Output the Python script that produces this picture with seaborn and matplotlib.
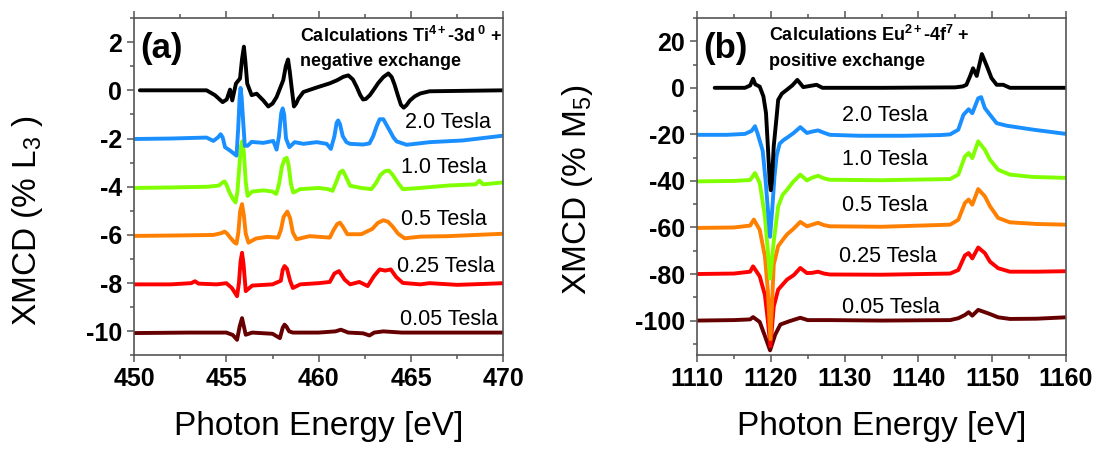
import matplotlib
matplotlib.use("Agg")
import matplotlib.pyplot as plt
import seaborn as sns
from matplotlib.ticker import MultipleLocator

# ---------------- data: panel (a) Ti L3 ----------------
calc_a_x = [450.32, 453.93, 454.38, 454.8, 455.02, 455.2, 455.32, 455.52, 455.74, 455.85, 455.95, 456.03,
            456.13, 456.37, 456.64, 457.0, 457.27, 457.5, 457.72, 458.08, 458.22, 458.34, 458.43, 458.53,
            458.66, 458.78, 458.9, 459.17, 459.9, 460.6, 461.0, 461.33, 461.6, 461.85, 462.05, 462.25,
            462.4, 462.55, 462.77, 463.0, 463.22, 463.5, 463.77, 463.95, 464.1, 464.3, 464.45, 464.6,
            464.75, 464.94, 465.2, 465.5, 466.0, 470.0]
calc_a_y = [0.0, 0.0, -0.2, -0.49, -0.38, 0.03, -0.42, 0.28, 0.49, 1.3, 1.81, 1.2,
            0.28, -0.2, -0.14, -0.42, -0.67, -0.55, -0.28, 0.42, 1.0, 1.28, 0.8, 0.14,
            -0.67, -0.55, -0.35, -0.07, 0.12, 0.29, 0.42, 0.56, 0.62, 0.45, 0.15, -0.2,
            -0.38, -0.36, -0.2, 0.05, 0.3, 0.55, 0.7, 0.55, 0.25, -0.25, -0.6, -0.72,
            -0.62, -0.42, -0.25, -0.13, -0.04, 0.0]

t20_a_x = [450.0, 452.0, 453.93, 454.3, 454.55, 454.69, 454.8, 454.93, 455.2, 455.45, 455.55, 455.64,
           455.72, 455.77, 455.83, 455.92, 456.0, 456.15, 456.37, 457.0, 457.54, 457.72, 457.85, 457.97,
           458.05, 458.13, 458.23, 458.41, 458.7, 459.17, 459.89, 460.43, 460.66, 460.85, 460.97, 461.05,
           461.15, 461.3, 461.5, 461.69, 462.41, 462.75, 462.95, 463.13, 463.3, 463.5, 463.68, 463.9,
           464.04, 464.22, 464.76, 466.02, 467.8, 470.0]
t20_a_y = [-2.02, -2.0, -1.96, -2.1, -1.95, -1.82, -1.95, -2.36, -2.5, -2.65, -2.71, -1.6,
           -0.3, 0.1, -0.3, -1.4, -2.3, -2.3, -2.14, -2.18, -2.1, -2.46, -1.9, -0.95,
           -0.75, -1.0, -2.0, -2.36, -2.15, -2.22, -2.15, -2.22, -2.43, -1.9, -1.35, -1.25,
           -1.4, -1.9, -2.15, -2.22, -2.25, -2.2, -1.9, -1.5, -1.2, -1.2, -1.45, -1.75,
           -1.95, -2.12, -2.26, -2.15, -2.08, -1.88]

t10_a_x = [450.0, 452.0, 454.0, 454.6, 454.8, 454.9, 455.0, 455.15, 455.35, 455.5, 455.6, 455.72,
           455.8, 455.87, 455.95, 456.05, 456.15, 456.4, 457.0, 457.5, 457.7, 457.85, 458.0, 458.15,
           458.27, 458.37, 458.5, 458.62, 459.0, 460.0, 460.5, 460.75, 460.95, 461.15, 461.3, 461.45,
           461.7, 462.3, 462.85, 463.1, 463.35, 463.6, 463.8, 464.0, 464.3, 464.55, 465.5, 467.0,
           468.5, 468.7, 468.9, 470.0]
t10_a_y = [-4.05, -4.03, -4.0, -3.95, -3.82, -3.78, -3.9, -4.2, -4.5, -4.65, -4.2, -3.0,
           -2.3, -2.11, -2.6, -3.8, -4.38, -4.2, -4.15, -4.2, -4.3, -3.9, -3.2, -2.85,
           -2.8, -3.1, -3.9, -4.24, -4.1, -4.05, -4.1, -4.17, -3.8, -3.4, -3.33, -3.55,
           -3.96, -4.05, -4.1, -3.85, -3.5, -3.35, -3.33, -3.5, -3.85, -4.1, -4.05, -3.95,
           -3.9, -3.75, -3.9, -3.82]

t05_a_x = [450.0, 452.5, 454.3, 454.75, 454.9, 455.05, 455.2, 455.45, 455.55, 455.65, 455.75, 455.85,
           455.95, 456.05, 456.2, 456.6, 457.2, 457.8, 457.95, 458.1, 458.3, 458.45, 458.6, 458.8,
           459.5, 460.6, 460.8, 461.0, 461.15, 461.3, 461.55, 462.3, 462.9, 463.2, 463.5, 463.75,
           464.0, 464.3, 464.65, 465.5, 467.0, 470.0]
t05_a_y = [-6.04, -6.02, -6.0, -5.92, -5.86, -5.95, -6.1, -6.32, -6.36, -5.9, -5.0, -4.72,
           -5.2, -5.95, -6.32, -6.15, -6.08, -6.11, -5.8, -5.25, -5.03, -5.3, -5.9, -6.18,
           -6.05, -6.11, -5.8, -5.55, -5.49, -5.65, -5.97, -5.97, -5.75, -5.5, -5.39, -5.45,
           -5.65, -5.95, -6.14, -6.07, -6.05, -5.95]

t025_a_x = [450.0, 452.0, 453.1, 453.3, 453.5, 454.5, 455.0, 455.3, 455.58, 455.68, 455.77, 455.85,
            455.93, 456.05, 456.4, 457.5, 457.95, 458.05, 458.15, 458.28, 458.45, 458.6, 459.0, 460.0,
            460.6, 460.85, 461.1, 461.4, 461.7, 462.2, 462.65, 463.0, 463.3, 463.6, 463.9, 464.2,
            464.55, 465.5, 466.0, 467.5, 469.0, 470.0]
t025_a_y = [-8.05, -8.05, -8.0, -7.92, -8.02, -8.05, -8.0, -8.2, -8.54, -8.0, -7.1, -6.74,
            -7.2, -8.33, -8.1, -8.05, -7.9, -7.45, -7.29, -7.4, -7.9, -8.2, -8.05, -8.0,
            -7.95, -7.6, -7.5, -7.85, -8.05, -7.95, -8.12, -7.7, -7.43, -7.48, -7.43, -7.75,
            -7.99, -8.05, -8.0, -8.07, -8.03, -8.0]

t005_a_x = [450.0, 453.0, 455.0, 455.35, 455.58, 455.72, 455.85, 455.95, 456.05, 456.4, 457.5, 457.9,
            458.05, 458.15, 458.25, 458.4, 458.6, 460.0, 460.9, 461.2, 461.6, 462.4, 462.75, 463.0,
            463.5, 464.5, 470.0]
t005_a_y = [-10.07, -10.05, -10.05, -10.15, -10.35, -9.8, -9.45, -9.8, -10.14, -10.05, -10.1, -10.28,
            -9.85, -9.72, -9.8, -10.0, -10.05, -10.05, -10.0, -9.93, -10.05, -10.08, -10.17, -10.05,
            -10.0, -10.05, -10.05]

# ---------------- data: panel (b) Eu M5 ----------------
calc_b_x = [1112.4, 1116.5, 1117.2, 1117.6, 1117.9, 1118.5, 1119.0, 1119.35, 1119.6, 1119.85, 1120.0,
            1120.15, 1120.4, 1120.8, 1121.0, 1121.5, 1122.15, 1122.9, 1123.6, 1124.4, 1125.3, 1126.2,
            1127.0, 1135.0, 1145.0, 1146.0, 1146.5, 1147.0, 1147.4, 1147.9, 1148.6, 1149.3, 1149.9,
            1150.6, 1151.5, 1152.4, 1160.0]
calc_b_y = [0.0, 0.0, 1.0, 3.9, 1.5, 0.5, -3.7, -10.8, -25.0, -40.0, -44.0,
            -40.0, -25.0, -12.0, -5.2, -2.5, -0.9, 1.0, 3.4, 0.3, 0.8, 1.3,
            0.0, 0.0, 0.2, 0.6, 1.3, 5.0, 8.4, 5.1, 14.5, 9.1, 4.2,
            1.3, 1.3, 0.0, 0.0]

t20_b_x = [1110.0, 1114.0, 1116.5, 1117.4, 1117.86, 1118.2, 1118.9, 1119.3, 1119.6, 1119.9, 1120.2,
           1120.5, 1120.8, 1121.2, 1121.7, 1122.4, 1123.1, 1124.0, 1124.9, 1125.6, 1126.4, 1127.2,
           1128.0, 1132.0, 1138.0, 1143.0, 1144.3, 1145.4, 1146.1, 1146.8, 1147.3, 1148.1, 1148.5,
           1149.0, 1149.7, 1150.6, 1152.0, 1155.6, 1160.0]
t20_b_y = [-20.2, -20.2, -19.8, -18.5, -16.5, -19.5, -27.0, -40.0, -52.0, -64.0, -52.0,
           -38.0, -29.0, -24.0, -22.5, -21.0, -19.4, -16.9, -19.4, -18.8, -18.3, -19.3,
           -20.2, -20.6, -20.6, -20.3, -20.0, -18.0, -11.6, -9.2, -10.9, -4.5, -4.0,
           -8.7, -11.6, -15.2, -16.3, -18.0, -19.8]

t10_b_x = [1110.0, 1115.0, 1117.2, 1117.86, 1118.5, 1119.2, 1119.7, 1119.9, 1120.4, 1121.0, 1121.6,
           1122.2, 1123.0, 1124.0, 1124.9, 1125.6, 1126.4, 1127.2, 1128.0, 1135.0, 1144.3, 1145.4,
           1146.3, 1146.8, 1147.3, 1148.1, 1149.0, 1149.7, 1150.8, 1152.4, 1155.5, 1160.0]
t10_b_y = [-40.2, -40.0, -39.6, -36.6, -40.9, -55.0, -74.0, -82.0, -66.0, -51.0, -46.0,
           -43.8, -40.5, -37.3, -39.8, -38.6, -37.8, -38.9, -39.5, -39.7, -39.2, -37.3,
           -29.5, -28.0, -30.2, -23.0, -26.6, -30.9, -35.2, -37.3, -38.3, -38.7]

t05_b_x = [1110.0, 1115.0, 1117.2, 1117.7, 1118.5, 1119.2, 1119.6, 1119.95, 1120.4, 1121.0, 1121.7,
           1122.2, 1123.1, 1124.0, 1124.9, 1125.6, 1126.4, 1127.2, 1128.0, 1135.0, 1144.3, 1145.4,
           1146.3, 1146.8, 1147.3, 1148.1, 1149.0, 1149.7, 1150.8, 1152.4, 1156.0, 1160.0]
t05_b_y = [-60.2, -60.0, -59.2, -56.6, -61.0, -72.4, -87.0, -108.0, -76.0, -68.0, -65.0,
           -63.0, -60.5, -57.6, -59.5, -58.8, -58.0, -59.0, -59.5, -59.7, -58.8, -56.7,
           -49.5, -48.0, -50.2, -43.5, -46.6, -50.9, -55.9, -57.8, -58.5, -58.8]

t025_b_x = [1110.0, 1115.0, 1117.2, 1117.6, 1118.5, 1119.2, 1119.6, 1119.95, 1120.4, 1121.0, 1122.2,
            1123.1, 1124.0, 1124.9, 1125.6, 1126.4, 1127.2, 1128.0, 1135.0, 1144.3, 1145.4, 1146.3,
            1146.8, 1147.3, 1148.1, 1149.0, 1149.7, 1150.8, 1152.4, 1156.0, 1160.0]
t025_b_y = [-80.0, -79.8, -79.0, -76.7, -81.0, -89.0, -100.0, -111.0, -94.0, -86.7, -82.4,
            -80.5, -77.4, -79.6, -79.5, -79.0, -79.8, -80.2, -80.3, -79.8, -78.3, -72.0,
            -71.0, -73.3, -68.6, -71.0, -74.7, -77.5, -79.0, -79.0, -78.8]

t005_b_x = [1110.0, 1115.0, 1117.2, 1117.6, 1118.5, 1119.2, 1119.9, 1120.6, 1121.3, 1122.5, 1124.0,
            1125.0, 1128.0, 1135.0, 1144.3, 1145.4, 1146.3, 1146.8, 1147.3, 1148.1, 1149.0, 1149.7,
            1150.8, 1152.4, 1156.0, 1160.0]
t005_b_y = [-100.0, -99.8, -99.5, -98.5, -100.6, -106.6, -112.8, -106.0, -101.7, -100.3, -98.8,
            -99.8, -99.8, -100.0, -99.8, -99.0, -97.6, -96.4, -97.9, -95.4, -96.4, -97.2,
            -98.6, -99.3, -99.2, -98.6]

field_labels = ["2.0 Tesla", "1.0 Tesla", "0.5 Tesla", "0.25 Tesla", "0.05 Tesla"]
label_a_x = [466.97, 466.8, 466.8, 466.9, 467.06]
label_a_y = [-1.56, -3.44, -5.59, -7.52, -9.74]
label_b_x = [1135.5, 1135.5, 1135.5, 1135.8, 1136.3]
label_b_y = [-14.05, -33.06, -53.1, -75.0, -96.7]

colors = ["#1a8fff", "#80ff00", "#ff7f00", "#ff0000", "#660000"]

# ---------------- style ----------------
sns.set_style("ticks")
plt.rcParams["font.family"] = ["Liberation Sans", "DejaVu Sans"]
plt.rcParams["mathtext.fontset"] = "custom"
plt.rcParams["mathtext.rm"] = "Liberation Sans"
plt.rcParams["mathtext.it"] = "Liberation Sans:italic"
plt.rcParams["mathtext.bf"] = "Liberation Sans:bold"
plt.rcParams["axes.unicode_minus"] = False
plt.rcParams["text.color"] = "black"
plt.rcParams["axes.labelcolor"] = "black"
plt.rcParams["xtick.labelcolor"] = "black"
plt.rcParams["ytick.labelcolor"] = "black"

fig = plt.figure(figsize=(10.99, 4.51), dpi=100)
ax_a = fig.add_axes([0.1219, 0.2118, 0.3362, 0.7483])
ax_b = fig.add_axes([0.6342, 0.2118, 0.3358, 0.7483])

LW = 2.8


def draw(ax, x, y, color):
    sns.lineplot(x=x, y=y, color=color, lw=LW, ax=ax, estimator=None,
                 sort=False, legend=False, solid_joinstyle="round",
                 solid_capstyle="round")


series_a = [(t005_a_x, t005_a_y), (t025_a_x, t025_a_y), (t05_a_x, t05_a_y),
            (t10_a_x, t10_a_y), (t20_a_x, t20_a_y)]
series_b = [(t005_b_x, t005_b_y), (t025_b_x, t025_b_y), (t05_b_x, t05_b_y),
            (t10_b_x, t10_b_y), (t20_b_x, t20_b_y)]
cols_rev = colors[::-1]
for (x, y), c in zip(series_a, cols_rev):
    draw(ax_a, x, y, c)
draw(ax_a, calc_a_x, calc_a_y, "black")
for (x, y), c in zip(series_b, cols_rev):
    draw(ax_b, x, y, c)
draw(ax_b, calc_b_x, calc_b_y, "black")

for lx, ly, t in zip(label_a_x, label_a_y, field_labels):
    ax_a.text(lx, ly, t, ha="center", va="baseline", fontsize=15.5, color="black")
for lx, ly, t in zip(label_b_x, label_b_y, field_labels):
    ax_b.text(lx, ly, t, ha="center", va="baseline", fontsize=15.5, color="black")

ax_a.set_xlim(450, 470)
ax_a.set_ylim(-11, 3)
ax_a.xaxis.set_major_locator(MultipleLocator(5))
ax_a.xaxis.set_minor_locator(MultipleLocator(2.5))
ax_a.yaxis.set_major_locator(MultipleLocator(2))
ax_a.yaxis.set_minor_locator(MultipleLocator(1))

ax_b.set_xlim(1110, 1160)
ax_b.set_ylim(-115, 30)
ax_b.xaxis.set_major_locator(MultipleLocator(10))
ax_b.xaxis.set_minor_locator(MultipleLocator(5))
ax_b.yaxis.set_major_locator(MultipleLocator(20))
ax_b.yaxis.set_minor_locator(MultipleLocator(10))

spine_col = "#555555"
for ax in (ax_a, ax_b):
    for s in ax.spines.values():
        s.set_visible(True)
        s.set_color(spine_col)
        s.set_linewidth(1.2)
    ax.tick_params(which="both", direction="out", top=True, right=False,
                   color=spine_col, width=1.1, labelsize=18, pad=3.5,
                   labelcolor="black")
    ax.tick_params(which="major", length=5)
    ax.tick_params(which="minor", length=3)
    for lbl in ax.get_xticklabels() + ax.get_yticklabels():
        lbl.set_fontweight("bold")
    ax.set_xlabel("Photon Energy [eV]", fontsize=24, labelpad=14, color="black")

ax_a.set_ylabel("XMCD (% L$_\\mathrm{3}$ )", fontsize=24, color="black")
ax_b.set_ylabel("XMCD (% M$_\\mathrm{5}$)", fontsize=24, color="black")
ax_a.yaxis.set_label_coords(-0.287, 0.40)
ax_b.yaxis.set_label_coords(-0.3225, 0.49)
ax_a.yaxis.label.set_va("center")
ax_b.yaxis.label.set_va("center")

# panel letters and titles
fig.text(140 / 1099, 1 - 58.5 / 451, "(a)", fontsize=25, fontweight="bold", ha="left", va="baseline")
fig.text(703 / 1099, 1 - 58.5 / 451, "(b)", fontsize=25, fontweight="bold", ha="left", va="baseline")
fig.text(300 / 1099, 1 - 41.5 / 451, "Calculations Ti$^{\\mathbf{4+}}$-3d$^{\\mathbf{\\ 0}}$ +",
         fontsize=13, fontweight="bold", ha="left", va="baseline")
fig.text(300 / 1099, 1 - 66.5 / 451, "negative exchange",
         fontsize=13, fontweight="bold", ha="left", va="baseline")
fig.text(769 / 1099, 1 - 40.7 / 451, "Calculations Eu$^{\\mathbf{2+}}$-4f$^{\\mathbf{7}}$ +",
         fontsize=13, fontweight="bold", ha="left", va="baseline")
fig.text(769 / 1099, 1 - 66 / 451, "positive exchange",
         fontsize=13, fontweight="bold", ha="left", va="baseline")

fig.savefig("out.png", dpi=100)
